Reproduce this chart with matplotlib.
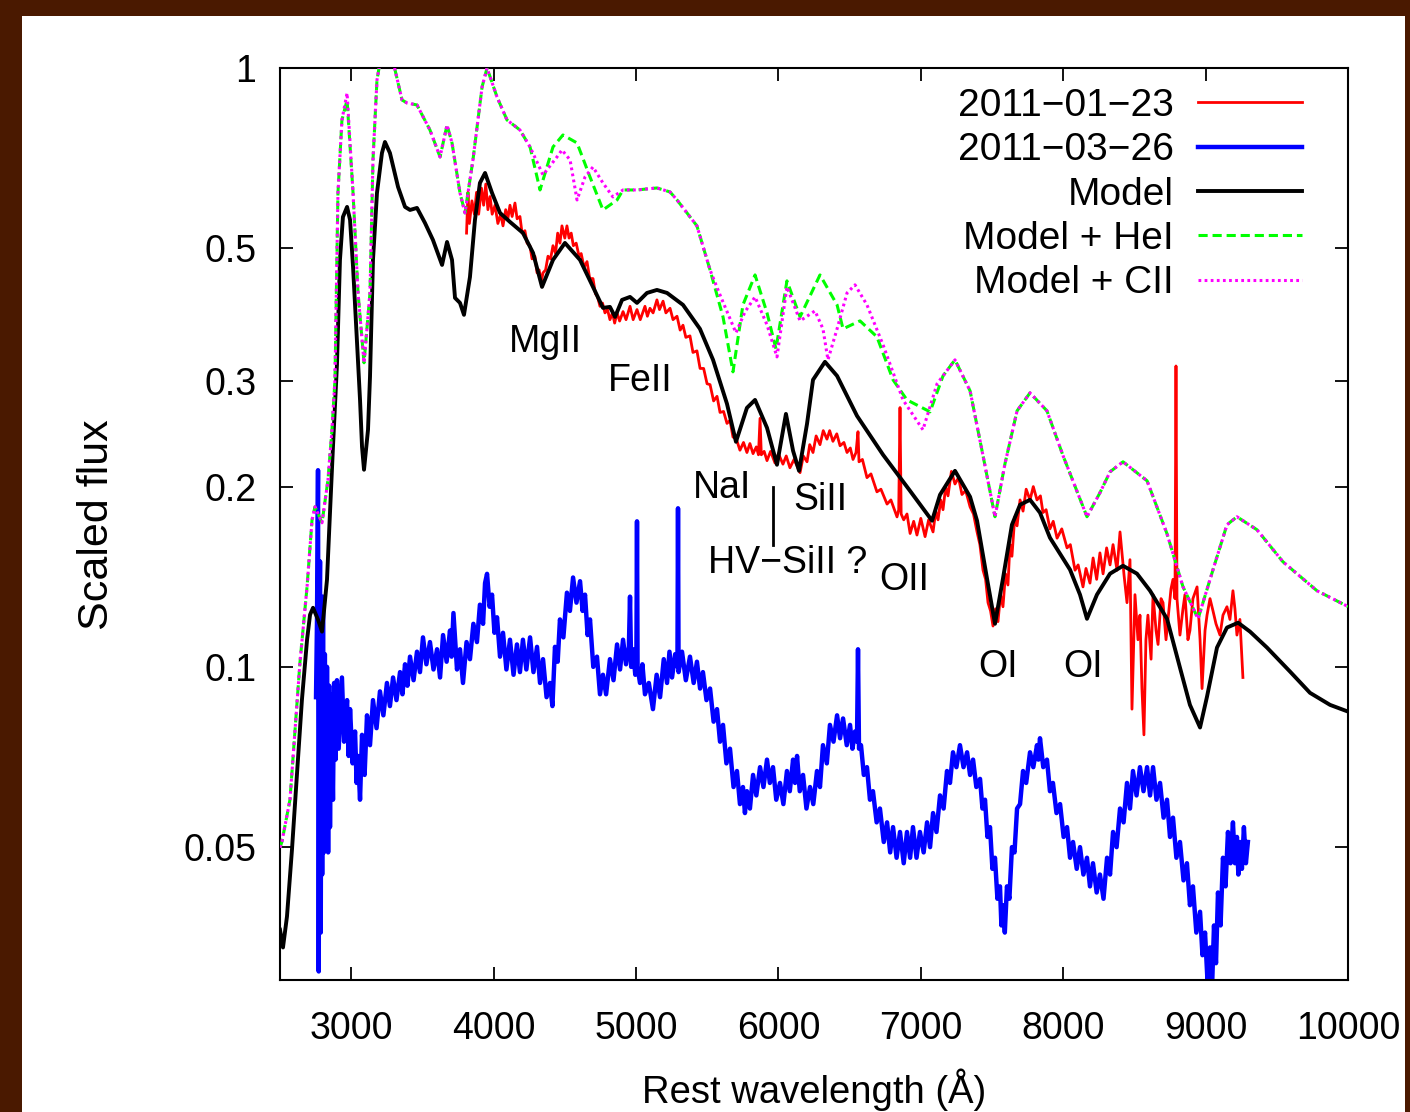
import matplotlib
matplotlib.use('Agg')
import matplotlib.pyplot as plt
from matplotlib.patches import Rectangle
from matplotlib.ticker import FixedLocator, NullLocator, FixedFormatter

plt.rcParams['font.family'] = ['Liberation Sans', 'DejaVu Sans']

# ---------------- data ----------------
series_labels = ['2011\u221201\u221223', '2011\u221203\u221226', 'Model', 'Model + HeI', 'Model + CII']
x_ticks = [3000, 4000, 5000, 6000, 7000, 8000, 9000, 10000]
y_ticks = [0.05, 0.1, 0.2, 0.3, 0.5, 1]
y_tick_labels = ['0.05', '0.1', '0.2', '0.3', '0.5', '1']

# 2011-01-23 observed spectrum (wavelength [A], scaled flux)
red_pts = [
    (3810, 0.53), (3820, 0.62), (3830, 0.55), (3848, 0.60), (3865, 0.57), (3880, 0.62), (3895, 0.57),
    (3915, 0.63), (3930, 0.59), (3945, 0.64), (3960, 0.58), (3975, 0.61), (3990, 0.57), (4010, 0.59),
    (4030, 0.55), (4050, 0.57), (4066, 0.545), (4085, 0.58), (4100, 0.56), (4115, 0.59), (4130, 0.565),
    (4150, 0.595), (4165, 0.56), (4185, 0.565), (4200, 0.53), (4220, 0.535), (4235, 0.51), (4255, 0.505),
    (4270, 0.48), (4290, 0.485), (4305, 0.455), (4320, 0.46), (4335, 0.44), (4347, 0.455), (4365, 0.46),
    (4382, 0.485), (4400, 0.48), (4417, 0.505), (4435, 0.49), (4450, 0.53), (4466, 0.51), (4480, 0.545),
    (4500, 0.52), (4515, 0.545), (4530, 0.52), (4545, 0.53), (4560, 0.505), (4580, 0.51), (4600, 0.485),
    (4615, 0.49), (4635, 0.465), (4656, 0.475), (4675, 0.445), (4698, 0.445), (4715, 0.42), (4730, 0.415),
    (4747, 0.40), (4765, 0.405), (4782, 0.39), (4800, 0.395), (4817, 0.38), (4835, 0.39), (4850, 0.375),
    (4867, 0.39), (4885, 0.378), (4909, 0.392), (4930, 0.38), (4958, 0.40), (4980, 0.38), (5007, 0.395),
    (5030, 0.38), (5063, 0.40), (5080, 0.385), (5098, 0.397), (5120, 0.39), (5147, 0.41), (5165, 0.395),
    (5190, 0.408), (5210, 0.39), (5239, 0.397), (5260, 0.38), (5288, 0.385), (5310, 0.365), (5330, 0.372),
    (5350, 0.355), (5379, 0.357), (5400, 0.335), (5428, 0.337), (5450, 0.315), (5475, 0.315), (5499, 0.297),
    (5520, 0.296), (5545, 0.278), (5569, 0.283), (5590, 0.266), (5615, 0.267), (5639, 0.255), (5660, 0.258),
    (5681, 0.242), (5705, 0.24), (5730, 0.23), (5755, 0.237), (5779, 0.228), (5800, 0.236), (5822, 0.227),
    (5845, 0.233), (5860, 0.226), (5871, 0.26), (5880, 0.226), (5900, 0.229), (5920, 0.221), (5945, 0.229),
    (5976, 0.219), (6000, 0.227), (6032, 0.218), (6055, 0.225), (6081, 0.215), (6110, 0.222), (6152, 0.211),
    (6175, 0.225), (6201, 0.22), (6220, 0.235), (6243, 0.228), (6265, 0.243), (6292, 0.235), (6315, 0.248),
    (6341, 0.24), (6360, 0.248), (6383, 0.238), (6410, 0.245), (6433, 0.234), (6460, 0.237), (6482, 0.228),
    (6505, 0.232), (6524, 0.222), (6545, 0.228), (6559, 0.247), (6566, 0.22), (6590, 0.222), (6622, 0.207),
    (6650, 0.21), (6692, 0.196), (6720, 0.198), (6763, 0.187), (6790, 0.19), (6833, 0.178), (6845, 0.183),
    (6854, 0.271), (6862, 0.18), (6880, 0.176), (6903, 0.18), (6925, 0.167), (6950, 0.175), (6973, 0.166),
    (7000, 0.177), (7030, 0.165), (7055, 0.176), (7086, 0.168), (7105, 0.182), (7121, 0.176), (7140, 0.19),
    (7156, 0.183), (7175, 0.20), (7191, 0.193), (7215, 0.212), (7240, 0.202), (7265, 0.207), (7289, 0.194),
    (7315, 0.197), (7346, 0.185), (7370, 0.18), (7395, 0.168), (7415, 0.16), (7437, 0.145), (7455, 0.14),
    (7472, 0.128), (7490, 0.124), (7507, 0.117), (7525, 0.125), (7542, 0.119), (7560, 0.132), (7577, 0.126),
    (7595, 0.143), (7612, 0.137), (7626, 0.16), (7640, 0.153), (7660, 0.178), (7676, 0.172), (7697, 0.19),
    (7718, 0.182), (7740, 0.198), (7767, 0.19), (7790, 0.20), (7816, 0.19), (7840, 0.193), (7858, 0.181),
    (7880, 0.183), (7907, 0.17), (7930, 0.175), (7957, 0.164), (7990, 0.17), (8027, 0.158), (8050, 0.16),
    (8083, 0.145), (8105, 0.148), (8139, 0.136), (8160, 0.146), (8188, 0.138), (8210, 0.152), (8235, 0.14),
    (8258, 0.155), (8280, 0.143), (8305, 0.158), (8329, 0.148), (8350, 0.16), (8378, 0.145), (8399, 0.168),
    (8427, 0.1425), (8448, 0.128), (8469, 0.151), (8483, 0.085), (8504, 0.132), (8525, 0.111), (8539, 0.122),
    (8553, 0.092), (8567, 0.077), (8581, 0.111), (8595, 0.122), (8617, 0.103), (8631, 0.132), (8652, 0.115),
    (8666, 0.109), (8687, 0.130), (8701, 0.128), (8722, 0.111), (8736, 0.120), (8757, 0.135), (8771, 0.140),
    (8785, 0.130), (8792, 0.318), (8799, 0.130), (8820, 0.113), (8841, 0.125), (8855, 0.132), (8876, 0.111),
    (8890, 0.115), (8911, 0.130), (8940, 0.136), (8961, 0.111), (8975, 0.092), (8996, 0.115), (9010, 0.122),
    (9031, 0.130), (9052, 0.124), (9073, 0.118), (9101, 0.113), (9122, 0.122), (9150, 0.126), (9171, 0.120),
    (9192, 0.134), (9206, 0.125), (9220, 0.113), (9241, 0.120), (9262, 0.096),
]

# 2011-03-26 observed spectrum
blue_pts = [
    (2753, 0.089), (2760, 0.120), (2767, 0.213), (2772, 0.031), (2777, 0.120), (2781, 0.150), (2786, 0.036),
    (2791, 0.110), (2796, 0.045), (2802, 0.131), (2808, 0.049), (2815, 0.105), (2822, 0.052), (2830, 0.100),
    (2838, 0.049), (2845, 0.093), (2851, 0.054), (2860, 0.090), (2872, 0.060), (2880, 0.094), (2890, 0.070),
    (2900, 0.095), (2912, 0.073), (2935, 0.096), (2950, 0.075), (2971, 0.088), (2982, 0.071), (2992, 0.085),
    (3010, 0.069), (3027, 0.078), (3038, 0.064), (3048, 0.071), (3062, 0.060), (3076, 0.077), (3094, 0.066),
    (3111, 0.083), (3132, 0.074), (3153, 0.088), (3178, 0.079), (3202, 0.091), (3226, 0.083), (3251, 0.094),
    (3272, 0.086), (3294, 0.096), (3318, 0.088), (3343, 0.098), (3360, 0.090), (3378, 0.101), (3395, 0.093),
    (3413, 0.104), (3438, 0.095), (3462, 0.106), (3483, 0.098), (3504, 0.112), (3528, 0.101), (3553, 0.110),
    (3578, 0.099), (3603, 0.107), (3624, 0.096), (3645, 0.113), (3670, 0.102), (3694, 0.115), (3705, 0.104),
    (3718, 0.123), (3743, 0.099), (3764, 0.107), (3785, 0.094), (3810, 0.110), (3834, 0.103), (3858, 0.118),
    (3883, 0.110), (3904, 0.127), (3926, 0.118), (3940, 0.138), (3954, 0.143), (3972, 0.126), (3989, 0.132),
    (4006, 0.114), (4024, 0.121), (4045, 0.104), (4066, 0.114), (4090, 0.099), (4115, 0.111), (4140, 0.097),
    (4164, 0.109), (4185, 0.098), (4206, 0.111), (4230, 0.099), (4256, 0.112), (4280, 0.098), (4305, 0.108),
    (4326, 0.094), (4347, 0.103), (4372, 0.089), (4396, 0.094), (4413, 0.086), (4431, 0.108), (4450, 0.102),
    (4466, 0.120), (4490, 0.112), (4515, 0.133), (4536, 0.124), (4558, 0.141), (4582, 0.128), (4607, 0.139),
    (4625, 0.124), (4642, 0.132), (4660, 0.113), (4677, 0.120), (4700, 0.100), (4726, 0.104), (4747, 0.090),
    (4768, 0.097), (4790, 0.090), (4817, 0.103), (4842, 0.095), (4867, 0.109), (4888, 0.099), (4909, 0.111),
    (4930, 0.101), (4950, 0.108), (4958, 0.131), (4966, 0.100), (4979, 0.107), (4995, 0.097), (5003, 0.106),
    (5007, 0.175), (5011, 0.100), (5028, 0.094), (5045, 0.101), (5063, 0.090), (5090, 0.094), (5119, 0.085),
    (5145, 0.097), (5169, 0.089), (5195, 0.103), (5218, 0.094), (5235, 0.106), (5253, 0.096), (5275, 0.105),
    (5291, 0.100), (5295, 0.184), (5299, 0.098), (5323, 0.106), (5350, 0.095), (5379, 0.104), (5405, 0.094),
    (5428, 0.102), (5450, 0.092), (5470, 0.098), (5495, 0.088), (5520, 0.092), (5545, 0.081), (5569, 0.085),
    (5590, 0.075), (5611, 0.080), (5635, 0.069), (5660, 0.073), (5685, 0.063), (5709, 0.067), (5730, 0.059),
    (5751, 0.063), (5765, 0.057), (5779, 0.062), (5800, 0.058), (5822, 0.066), (5845, 0.061), (5871, 0.068),
    (5895, 0.063), (5920, 0.070), (5940, 0.064), (5962, 0.068), (5985, 0.060), (6011, 0.064), (6035, 0.059),
    (6060, 0.067), (6080, 0.062), (6103, 0.070), (6117, 0.064), (6131, 0.071), (6150, 0.062), (6173, 0.066),
    (6197, 0.058), (6222, 0.063), (6245, 0.059), (6271, 0.067), (6292, 0.063), (6313, 0.074), (6340, 0.069),
    (6362, 0.080), (6387, 0.075), (6412, 0.083), (6433, 0.076), (6454, 0.082), (6480, 0.074), (6503, 0.080),
    (6520, 0.073), (6538, 0.078), (6552, 0.075), (6559, 0.107), (6566, 0.073), (6580, 0.074), (6600, 0.066),
    (6622, 0.068), (6643, 0.060), (6664, 0.062), (6690, 0.055), (6713, 0.058), (6740, 0.051), (6763, 0.055),
    (6785, 0.049), (6805, 0.054), (6830, 0.048), (6854, 0.053), (6880, 0.047), (6903, 0.053), (6925, 0.048),
    (6945, 0.054), (6970, 0.048), (6994, 0.053), (7020, 0.049), (7044, 0.055), (7065, 0.050), (7086, 0.057),
    (7110, 0.053), (7135, 0.061), (7160, 0.058), (7184, 0.067), (7205, 0.064), (7226, 0.072), (7250, 0.068),
    (7275, 0.074), (7300, 0.068), (7325, 0.072), (7346, 0.066), (7367, 0.070), (7390, 0.063), (7416, 0.065),
    (7433, 0.058), (7451, 0.060), (7468, 0.052), (7486, 0.054), (7503, 0.046), (7521, 0.048), (7538, 0.041),
    (7556, 0.043), (7566, 0.037), (7577, 0.040), (7590, 0.036), (7605, 0.043), (7622, 0.041), (7640, 0.050),
    (7658, 0.049), (7676, 0.058), (7697, 0.059), (7718, 0.067), (7740, 0.064), (7767, 0.072), (7790, 0.068),
    (7816, 0.074), (7826, 0.070), (7837, 0.076), (7860, 0.068), (7886, 0.070), (7907, 0.062), (7928, 0.064),
    (7953, 0.057), (7978, 0.059), (8003, 0.052), (8027, 0.054), (8048, 0.048), (8069, 0.051), (8095, 0.046),
    (8118, 0.050), (8142, 0.045), (8167, 0.048), (8188, 0.043), (8209, 0.047), (8235, 0.042), (8258, 0.045),
    (8283, 0.041), (8308, 0.048), (8329, 0.045), (8350, 0.053), (8375, 0.050), (8399, 0.058), (8424, 0.055),
    (8448, 0.064), (8469, 0.058), (8490, 0.067), (8515, 0.061), (8539, 0.068), (8564, 0.062), (8589, 0.068),
    (8610, 0.061), (8631, 0.068), (8655, 0.060), (8680, 0.064), (8705, 0.056), (8729, 0.060), (8750, 0.052),
    (8771, 0.056), (8795, 0.048), (8820, 0.051), (8845, 0.044), (8869, 0.047), (8890, 0.040), (8911, 0.043),
    (8935, 0.036), (8961, 0.039), (8978, 0.033), (8996, 0.036), (9013, 0.030), (9031, 0.034), (9045, 0.029),
    (9059, 0.037), (9073, 0.032), (9087, 0.042), (9105, 0.037), (9122, 0.048), (9140, 0.043), (9157, 0.053),
    (9175, 0.047), (9192, 0.055), (9206, 0.047), (9220, 0.052), (9230, 0.045), (9241, 0.051), (9255, 0.046),
    (9269, 0.054), (9283, 0.047), (9297, 0.051),
]

# synthetic model
model_pts = [
    (2500, 0.0364), (2521, 0.0340), (2549, 0.0383), (2584, 0.0495), (2619, 0.0661), (2654, 0.0881),
    (2690, 0.1110), (2711, 0.1222), (2732, 0.1255), (2767, 0.1199), (2795, 0.1145), (2830, 0.1398),
    (2851, 0.1809), (2872, 0.2331), (2900, 0.3194), (2921, 0.4781), (2942, 0.5640), (2971, 0.5862),
    (2992, 0.5576), (3013, 0.4654), (3041, 0.3476), (3062, 0.2791), (3076, 0.2331), (3090, 0.2134),
    (3118, 0.2488), (3132, 0.3050), (3153, 0.4781), (3181, 0.6185), (3216, 0.7213), (3237, 0.7524),
    (3272, 0.7213), (3329, 0.6329), (3378, 0.5862), (3413, 0.5794), (3462, 0.5839), (3518, 0.5512),
    (3574, 0.5163), (3638, 0.4690), (3673, 0.5123), (3708, 0.4781), (3729, 0.4132), (3764, 0.4053),
    (3792, 0.3871), (3834, 0.4478), (3869, 0.5576), (3904, 0.6427), (3940, 0.6679), (3989, 0.6185),
    (4045, 0.5728), (4115, 0.5533), (4206, 0.5304), (4277, 0.4912), (4340, 0.4310), (4417, 0.4781),
    (4501, 0.5104), (4607, 0.4781), (4698, 0.4310), (4768, 0.3976), (4817, 0.3991), (4853, 0.3841),
    (4902, 0.4100), (4958, 0.4147), (5007, 0.4053), (5077, 0.4211), (5147, 0.4260), (5218, 0.4211),
    (5330, 0.4022), (5449, 0.3668), (5541, 0.3256), (5639, 0.2749), (5702, 0.2376), (5779, 0.2707),
    (5836, 0.2791), (5920, 0.2507), (5990, 0.2175), (6053, 0.2645), (6103, 0.2295), (6145, 0.2125),
    (6201, 0.2546), (6243, 0.3015), (6327, 0.3231), (6412, 0.3061), (6552, 0.2625), (6735, 0.2260),
    (6924, 0.1968), (7079, 0.1754), (7135, 0.1938), (7240, 0.2125), (7346, 0.1923), (7395, 0.1754),
    (7465, 0.1404), (7521, 0.1180), (7577, 0.1404), (7640, 0.1727), (7697, 0.1865), (7767, 0.1901),
    (7837, 0.1809), (7907, 0.1643), (8048, 0.1453), (8118, 0.1320), (8167, 0.1203), (8237, 0.1320),
    (8329, 0.1431), (8420, 0.1475), (8518, 0.1431), (8610, 0.1340), (8729, 0.1203), (8820, 0.0997),
    (8890, 0.0864), (8961, 0.0792), (9010, 0.0892), (9080, 0.1077), (9150, 0.1163), (9228, 0.1185),
    (9312, 0.1145), (9431, 0.1077), (9593, 0.0982), (9733, 0.0905), (9874, 0.0864), (10000, 0.0842),
]

# model + HeI
hei_pts = [
    (2500, 0.0499), (2514, 0.0511), (2570, 0.0600), (2640, 0.1016), (2690, 0.1361), (2725, 0.1760),
    (2746, 0.1851), (2795, 0.1740), (2837, 0.2053), (2865, 0.2488), (2886, 0.3015), (2907, 0.6185),
    (2935, 0.8189), (2971, 0.8843), (3013, 0.6185), (3048, 0.4211), (3090, 0.3219), (3132, 0.4211),
    (3153, 0.7022), (3181, 0.9549), (3223, 1.092), (3272, 1.114), (3308, 0.9923), (3357, 0.8843),
    (3392, 0.8742), (3462, 0.8675), (3553, 0.7880), (3624, 0.7103), (3673, 0.8033), (3708, 0.7496),
    (3764, 0.6185), (3799, 0.5728), (3855, 0.7022), (3919, 0.9296), (3954, 1.0), (4024, 0.8945),
    (4094, 0.8189), (4185, 0.7880), (4256, 0.7381), (4326, 0.6257), (4417, 0.7381), (4487, 0.7730),
    (4586, 0.7496), (4677, 0.6577), (4768, 0.5794), (4867, 0.6021), (4909, 0.6257), (5007, 0.6257),
    (5147, 0.6305), (5239, 0.6209), (5288, 0.6021), (5428, 0.5449), (5520, 0.4600), (5611, 0.3841),
    (5681, 0.3109), (5751, 0.4022), (5836, 0.4513), (5920, 0.3900), (5983, 0.3396), (6060, 0.4411),
    (6152, 0.3841), (6292, 0.4513), (6412, 0.4022), (6454, 0.3668), (6573, 0.3782), (6692, 0.3557),
    (6805, 0.3015), (6903, 0.2791), (7065, 0.2666), (7156, 0.3061), (7240, 0.3256), (7346, 0.2890),
    (7437, 0.2252), (7521, 0.1781), (7591, 0.2183), (7676, 0.2676), (7767, 0.2868), (7886, 0.2676),
    (7999, 0.2252), (8167, 0.1781), (8258, 0.1953), (8329, 0.2117), (8420, 0.2200), (8589, 0.2045),
    (8729, 0.1668), (8841, 0.1361), (8947, 0.1203), (9052, 0.1453), (9150, 0.1727), (9220, 0.1781),
    (9361, 0.1694), (9543, 0.1498), (9782, 0.1340), (10000, 0.1261),
]

# model + CII
cii_pts = [
    (2500, 0.0499), (2514, 0.0511), (2570, 0.0600), (2640, 0.1016), (2690, 0.1361), (2725, 0.1760),
    (2746, 0.1851), (2795, 0.1740), (2837, 0.2053), (2865, 0.2488), (2886, 0.3015), (2907, 0.6185),
    (2935, 0.8189), (2971, 0.9084), (3013, 0.6185), (3048, 0.4211), (3090, 0.3219), (3132, 0.4211),
    (3153, 0.7022), (3181, 0.9549), (3223, 1.092), (3272, 1.114), (3308, 0.9923), (3357, 0.8843),
    (3392, 0.8742), (3462, 0.8675), (3553, 0.7880), (3624, 0.7103), (3673, 0.8033), (3708, 0.7496),
    (3764, 0.6185), (3799, 0.5728), (3855, 0.7022), (3919, 0.9296), (3954, 1.0), (4024, 0.8945),
    (4094, 0.8189), (4185, 0.7880), (4256, 0.7381), (4347, 0.6628), (4445, 0.7103), (4480, 0.7297),
    (4537, 0.7022), (4586, 0.6021), (4642, 0.6577), (4698, 0.6835), (4768, 0.6427), (4838, 0.6091),
    (4909, 0.6257), (5007, 0.6257), (5147, 0.6305), (5239, 0.6209), (5288, 0.6021), (5428, 0.5449),
    (5520, 0.4600), (5590, 0.4179), (5702, 0.3612), (5765, 0.3915), (5836, 0.4147), (5920, 0.3725),
    (5990, 0.3293), (6060, 0.4310), (6152, 0.3782), (6257, 0.3930), (6313, 0.3668), (6348, 0.3256),
    (6412, 0.3668), (6482, 0.4211), (6538, 0.4344), (6622, 0.4022), (6735, 0.3449), (6875, 0.2791),
    (7015, 0.2488), (7114, 0.2969), (7240, 0.3256), (7346, 0.2890), (7437, 0.2252), (7521, 0.1781),
    (7591, 0.2183), (7676, 0.2676), (7767, 0.2868), (7886, 0.2676), (7999, 0.2252), (8167, 0.1781),
    (8258, 0.1953), (8329, 0.2117), (8420, 0.2200), (8589, 0.2045), (8729, 0.1668), (8841, 0.1361),
    (8947, 0.1203), (9052, 0.1453), (9150, 0.1727), (9220, 0.1781), (9361, 0.1694), (9543, 0.1498),
    (9782, 0.1340), (10000, 0.1261),
]

# line identifications: (label, wavelength, flux)
line_ids = [
    ('MgII', 4361, 0.349),
    ('FeII', 5028, 0.300),
    ('NaI', 5604, 0.199),
    ('SiII', 6292, 0.190),
    ('HV\u2212SiII ?', 6067, 0.149),
    ('OII', 6882, 0.1397),
    ('OI', 7542, 0.100),
    ('OI', 8139, 0.100),
]
hv_marker_wave = 5962
hv_marker_flux = (0.160, 0.200)

# ---------------- figure ----------------
W, H = 1410, 1112
FS = 27
fig = plt.figure(figsize=(W / 100, H / 100), dpi=100, facecolor='#4a1900')
fig.add_artist(Rectangle((22 / W, 0), (1405 - 22) / W, (H - 16) / H, transform=fig.transFigure,
                         facecolor='white', edgecolor='none', zorder=-5))

ax = fig.add_axes([280 / W, 1 - 980 / H, (1348 - 280) / W, (980 - 68) / H])
ax.set_yscale('log')


def split(pts):
    return [p[0] for p in pts], [p[1] for p in pts]


rw, rf = split(red_pts)
bw, bf = split(blue_pts)
mw, mf = split(model_pts)
hw, hf = split(hei_pts)
cw, cf = split(cii_pts)

ax.plot(rw, rf, color='#ff0000', lw=2.0, label=series_labels[0], zorder=2)
ax.plot(bw, bf, color='#0000ff', lw=3.2, label=series_labels[1], zorder=2)
ax.plot(mw, mf, color='black', lw=2.8, label=series_labels[2], zorder=3)
ax.plot(hw, hf, color='#00ff00', lw=2.2, ls=(0, (3.0, 1.6)), label=series_labels[3], zorder=4)
ax.plot(cw, cf, color='#ff00ff', lw=2.2, ls=(0, (0.9, 1.1)), label=series_labels[4], zorder=5)

ax.set_xlim(2500, 10000)
ax.set_ylim(0.0300, 1.0)

ax.xaxis.set_major_locator(FixedLocator(x_ticks))
ax.yaxis.set_major_locator(FixedLocator(y_ticks))
ax.yaxis.set_major_formatter(FixedFormatter(y_tick_labels))
ax.yaxis.set_minor_locator(NullLocator())
ax.xaxis.set_minor_locator(NullLocator())
ax.tick_params(which='major', direction='in', top=True, right=True, length=9.5, width=1.3,
               labelsize=FS, colors='black')
ax.tick_params(axis='y', pad=17)
ax.tick_params(axis='x', pad=22)
for s in ax.spines.values():
    s.set_linewidth(1.5)

fig.text(97 / W, 1 - 525 / H, 'Scaled flux', rotation=90, ha='center', va='center', fontsize=31)
fig.text(814 / W, 1 - 1090 / H, 'Rest wavelength (\u00c5)', ha='center', va='center', fontsize=27.5)

for lab, x, y in line_ids:
    ax.text(x, y, lab, ha='center', va='center', fontsize=FS, zorder=6)
ax.plot([hv_marker_wave, hv_marker_wave], list(hv_marker_flux), color='black', lw=2.0, zorder=6)

leg = ax.legend(loc='upper right', bbox_to_anchor=(1302 / W, 1 - 88 / H), bbox_transform=fig.transFigure,
                frameon=False, markerfirst=False, fontsize=28, handlelength=2.68, handletextpad=0.62,
                labelspacing=0.215, borderpad=0, borderaxespad=0)

fig.savefig('out.png', dpi=100, facecolor=fig.get_facecolor())
